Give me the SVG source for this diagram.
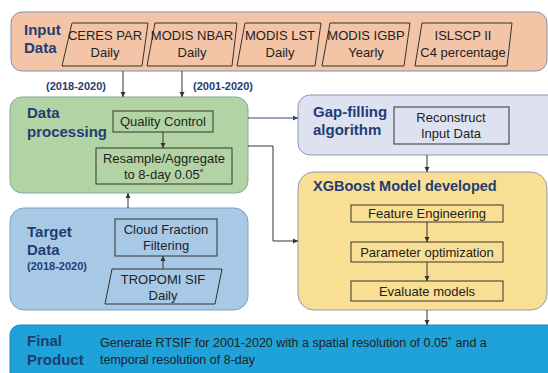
<svg xmlns="http://www.w3.org/2000/svg" width="548" height="373" viewBox="0 0 548 373">
<style>
.t{font-family:"Liberation Sans",Arial,sans-serif;fill:#222;font-size:13px}
.h{font-family:"Liberation Sans",Arial,sans-serif;font-weight:bold;fill:#1f3d73;font-size:15px}
.s{font-family:"Liberation Sans",Arial,sans-serif;font-weight:bold;fill:#1f3d73;font-size:11px}
.box{fill:none;stroke:#333;stroke-width:1}
.c{fill:none;stroke:#333;stroke-width:1}
</style>
<defs>
<marker id="a" markerWidth="6" markerHeight="6" refX="5" refY="3" orient="auto" markerUnits="userSpaceOnUse"><path d="M0,0.5 L5,3 L0,5.5 z" fill="#333"/></marker>
<marker id="b" markerWidth="6" markerHeight="6" refX="5" refY="3" orient="auto" markerUnits="userSpaceOnUse"><path d="M0,0.5 L5,3 L0,5.5 z" fill="#2f4a7a"/></marker>
</defs>
<rect width="548" height="373" fill="#fff"/>
<g id="input">
<rect x="11" y="12" width="536" height="59" rx="11" fill="#f3c5a6" stroke="#8391a8" stroke-width="1"/>
<text class="h" x="24" y="35">Input</text>
<text class="h" x="24" y="53">Data</text>
<polygon class="box" points="72,23 148,23 142,66 62,66"/>
<text class="t" x="105" y="40" text-anchor="middle">CERES PAR</text>
<text class="t" x="105" y="57" text-anchor="middle">Daily</text>
<polygon class="box" points="155,23 237,23 232,66 147,66"/>
<text class="t" x="192" y="40" text-anchor="middle">MODIS NBAR</text>
<text class="t" x="192" y="57" text-anchor="middle">Daily</text>
<polygon class="box" points="245,23 321,23 315,66 237,66"/>
<text class="t" x="280" y="40" text-anchor="middle">MODIS LST</text>
<text class="t" x="280" y="57" text-anchor="middle">Daily</text>
<polygon class="box" points="330,23 410,23 404,66 322,66"/>
<text class="t" x="366" y="40" text-anchor="middle">MODIS IGBP</text>
<text class="t" x="366" y="57" text-anchor="middle">Yearly</text>
<polygon class="box" points="422,23 512,23 507,66 415,66"/>
<text class="t" x="463" y="40" text-anchor="middle">ISLSCP II</text>
<text class="t" x="463" y="57" text-anchor="middle">C4 percentage</text>
</g>
<text class="s" x="46" y="90">(2018-2020)</text>
<text class="s" x="193" y="90">(2001-2020)</text>
<g id="processing">
<rect x="10" y="97" width="238" height="96" rx="12" fill="#b2d4a4" stroke="#8aa79a" stroke-width="1"/>
<text class="h" x="27" y="118">Data</text>
<text class="h" x="27" y="137">processing</text>
<rect class="box" x="113" y="111" width="100" height="21"/>
<text class="t" x="163" y="126" text-anchor="middle">Quality Control</text>
<rect class="box" x="96" y="148" width="136" height="36"/>
<text class="t" x="164" y="163" text-anchor="middle">Resample/Aggregate</text>
<text class="t" x="164" y="179" text-anchor="middle">to 8-day 0.05˚</text>
</g>
<g id="target">
<rect x="10" y="208" width="238" height="102" rx="14" fill="#a8c9e6" stroke="#7f9fbf" stroke-width="1"/>
<text class="h" x="27" y="237">Target</text>
<text class="h" x="27" y="255">Data</text>
<text class="s" x="27" y="270">(2018-2020)</text>
<rect class="box" x="115" y="219" width="102" height="37"/>
<text class="t" x="166" y="234" text-anchor="middle">Cloud Fraction</text>
<text class="t" x="166" y="250" text-anchor="middle">Filtering</text>
<polygon class="box" points="112,269 222,269 215,304 105,304"/>
<text class="t" x="163" y="284" text-anchor="middle">TROPOMI SIF</text>
<text class="t" x="163" y="300" text-anchor="middle">Daily</text>
</g>
<g id="gapfill">
<rect x="298" y="95" width="262" height="60" rx="12" fill="#dde1f0" stroke="#8a96b5" stroke-width="1"/>
<text class="h" x="313" y="117">Gap-filling</text>
<text class="h" x="313" y="135">algorithm</text>
<rect class="box" x="394" y="107" width="115" height="37"/>
<text class="t" x="451" y="122" text-anchor="middle">Reconstruct</text>
<text class="t" x="451" y="138" text-anchor="middle">Input Data</text>
</g>
<g id="xgboost">
<rect x="298" y="172" width="249" height="138" rx="16" fill="#f9df94" stroke="#8e9aab" stroke-width="1"/>
<text class="h" x="313" y="191" style="font-size:14.5px">XGBoost Model developed</text>
<rect class="box" x="351" y="205" width="152" height="17"/>
<text class="t" x="427" y="218" text-anchor="middle">Feature Engineering</text>
<rect class="box" x="351" y="242" width="152" height="20"/>
<text class="t" x="427" y="257" text-anchor="middle">Parameter optimization</text>
<rect class="box" x="351" y="281" width="152" height="20"/>
<text class="t" x="427" y="296" text-anchor="middle">Evaluate models</text>
</g>
<g id="final">
<rect x="10" y="325" width="560" height="60" rx="10" fill="#1fa1d9" stroke="#1a86b8" stroke-width="1"/>
<text class="h" x="27" y="346">Final</text>
<text class="h" x="27" y="365">Product</text>
<text class="t" x="100" y="347" style="font-size:12.5px">Generate RTSIF for 2001-2020 with a spatial resolution of 0.05˚ and a</text>
<text class="t" x="100" y="364" style="font-size:12.5px">temporal resolution of 8-day</text>
</g>
<g id="connectors">
<line class="c" x1="123" y1="71" x2="123" y2="97" marker-end="url(#a)"/>
<line class="c" x1="182" y1="71" x2="182" y2="97" marker-end="url(#a)"/>
<line class="c" x1="163" y1="132" x2="163" y2="148" marker-end="url(#a)"/>
<line class="c" x1="128" y1="208" x2="128" y2="193" marker-end="url(#a)"/>
<line class="c" x1="163" y1="269" x2="163" y2="256" marker-end="url(#a)"/>
<line x1="248" y1="118" x2="298" y2="118" stroke="#2f4a7a" stroke-width="1" marker-end="url(#b)"/>
<polyline class="c" points="248,146 273,146 273,241 298,241" marker-end="url(#a)"/>
<line class="c" x1="427" y1="155" x2="427" y2="172" marker-end="url(#a)"/>
<line class="c" x1="427" y1="222" x2="427" y2="242" marker-end="url(#a)"/>
<line class="c" x1="427" y1="262" x2="427" y2="281" marker-end="url(#a)"/>
<line class="c" x1="427" y1="310" x2="427" y2="325" marker-end="url(#a)"/>
</g>
</svg>
